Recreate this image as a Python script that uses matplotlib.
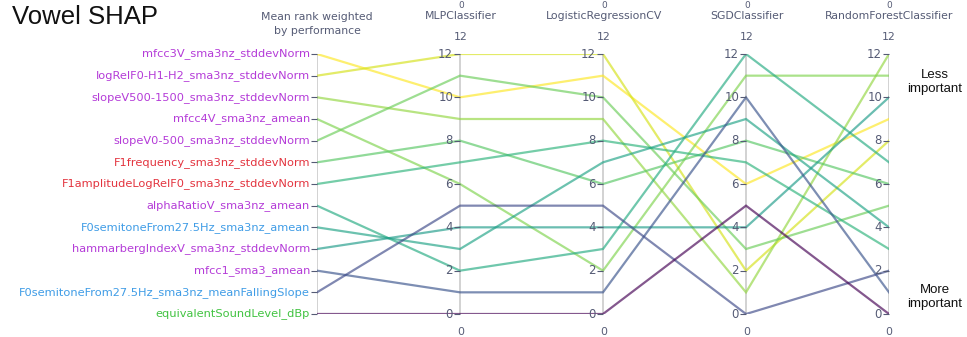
import numpy as np
import matplotlib
matplotlib.use("Agg")
import matplotlib.pyplot as plt
from matplotlib import colors as mcolors

# Features ordered from least important (top) to most important (bottom)
features = [
    "mfcc3V_sma3nz_stddevNorm",
    "logRelF0-H1-H2_sma3nz_stddevNorm",
    "slopeV500-1500_sma3nz_stddevNorm",
    "mfcc4V_sma3nz_amean",
    "slopeV0-500_sma3nz_stddevNorm",
    "F1frequency_sma3nz_stddevNorm",
    "F1amplitudeLogRelF0_sma3nz_stddevNorm",
    "alphaRatioV_sma3nz_amean",
    "F0semitoneFrom27.5Hz_sma3nz_amean",
    "hammarbergIndexV_sma3nz_stddevNorm",
    "mfcc1_sma3_amean",
    "F0semitoneFrom27.5Hz_sma3nz_meanFallingSlope",
    "equivalentSoundLevel_dBp",
]
feature_group = ["spectral", "spectral", "spectral", "spectral", "spectral",
                 "formant", "formant", "spectral", "pitch", "spectral",
                 "spectral", "pitch", "energy"]

models = ["MLPClassifier", "LogisticRegressionCV", "SGDClassifier",
          "RandomForestClassifier"]
mean_rank_pos = [12, 11, 10, 9, 8, 7, 6, 5, 4, 3, 2, 1, 0]
mlp_rank = [10, 12, 9, 6, 11, 8, 7, 2, 3, 4, 1, 5, 0]
logreg_rank = [11, 12, 9, 2, 10, 6, 8, 3, 7, 4, 1, 5, 0]
sgd_rank = [6, 2, 1, 11, 3, 8, 7, 12, 9, 4, 10, 0, 5]
rf_rank = [9, 8, 12, 11, 5, 6, 3, 7, 4, 10, 1, 2, 0]
tick_values = [0, 2, 4, 6, 8, 10, 12]

group_colors = {"spectral": "#b43bd8", "formant": "#e3343f",
                "pitch": "#3f9ce6", "energy": "#41c341"}

W, H = 967, 337
fig = plt.figure(figsize=(W / 100, H / 100), dpi=100)
fig.patch.set_facecolor("white")

x_left, x_right = 317, 889
y_top, y_bot = 54, 314
ax = fig.add_axes([x_left / W, (H - y_bot) / H, (x_right - x_left) / W,
                   (y_bot - y_top) / H])
ax.set_xlim(0, 4)
ax.set_ylim(0, 12)
ax.axis("off")

ranks = np.array([mlp_rank, logreg_rank, sgd_rank, rf_rank], dtype=float)
color_val = ranks.mean(axis=0)
norm = mcolors.Normalize(color_val.min(), color_val.max())
cmap = plt.get_cmap("viridis")

xs = np.arange(5)
# Axis lines
for x in xs:
    ax.plot([x, x], [0, 12], color="#cfcfcf", lw=1.3, zorder=1,
            solid_capstyle="butt")

# Polylines, one per feature
for i in range(len(features)):
    ys = [mean_rank_pos[i], mlp_rank[i], logreg_rank[i], sgd_rank[i], rf_rank[i]]
    ax.plot(xs, ys, color=cmap(norm(color_val[i])), lw=1.6, alpha=0.66,
            zorder=2, solid_joinstyle="miter")

tick_col = "#555b75"
font = "DejaVu Sans"
# First axis: categorical feature labels
ax.plot([0] * len(features), mean_rank_pos, ls="none", marker=0, ms=4,
        color=tick_col, mew=0.8, clip_on=False, zorder=3)
for name, grp, v in zip(features, feature_group, mean_rank_pos):
    ax.annotate(name, (0, v), xytext=(-5, 0), textcoords="offset points",
                ha="right", va="center", fontsize=8.2, family=font,
                color=group_colors[grp], annotation_clip=False)

# Model axes: numeric ticks
for x in xs[1:]:
    ax.plot([x] * len(tick_values), tick_values, ls="none", marker=0, ms=4,
            color=tick_col, mew=0.8, clip_on=False, zorder=3)
    for t in tick_values:
        ax.annotate(str(t), (x, t), xytext=(-5, 0), textcoords="offset points",
                    ha="right", va="center", fontsize=8.5, family=font,
                    color=tick_col, annotation_clip=False)

def px(x, y):
    return x / W, 1 - y / H

axis_px = [317, 461, 604, 747, 889]
fig.text(*px(axis_px[0], 17), "Mean rank weighted", ha="center", va="center",
         fontsize=7.8, family=font, color=tick_col)
fig.text(*px(axis_px[0], 31), "by performance", ha="center", va="center",
         fontsize=7.8, family=font, color=tick_col)
for xp, name in zip(axis_px[1:], models):
    fig.text(*px(xp, 16), name, ha="center", va="center", fontsize=7.8,
             family=font, color=tick_col)
    fig.text(*px(xp, 0.5), "0", ha="center", va="top", fontsize=6.5,
             family=font, color=tick_col)
    fig.text(*px(xp, 37), "12", ha="center", va="center", fontsize=7.8,
             family=font, color=tick_col)
    fig.text(*px(xp, 332), "0", ha="center", va="center", fontsize=7.8,
             family=font, color=tick_col)

fig.text(*px(12, 17), "Vowel SHAP", ha="left", va="center", fontsize=18.5,
         family="Liberation Sans", color="#111111")
fig.text(*px(935, 82), "Less\nimportant", ha="center", va="center",
         fontsize=9.5, family="Liberation Sans", color="#111111",
         linespacing=1.2)
fig.text(*px(935, 297), "More\nimportant", ha="center", va="center",
         fontsize=9.5, family="Liberation Sans", color="#111111",
         linespacing=1.2)

fig.savefig("out.png", dpi=100, facecolor="white")
